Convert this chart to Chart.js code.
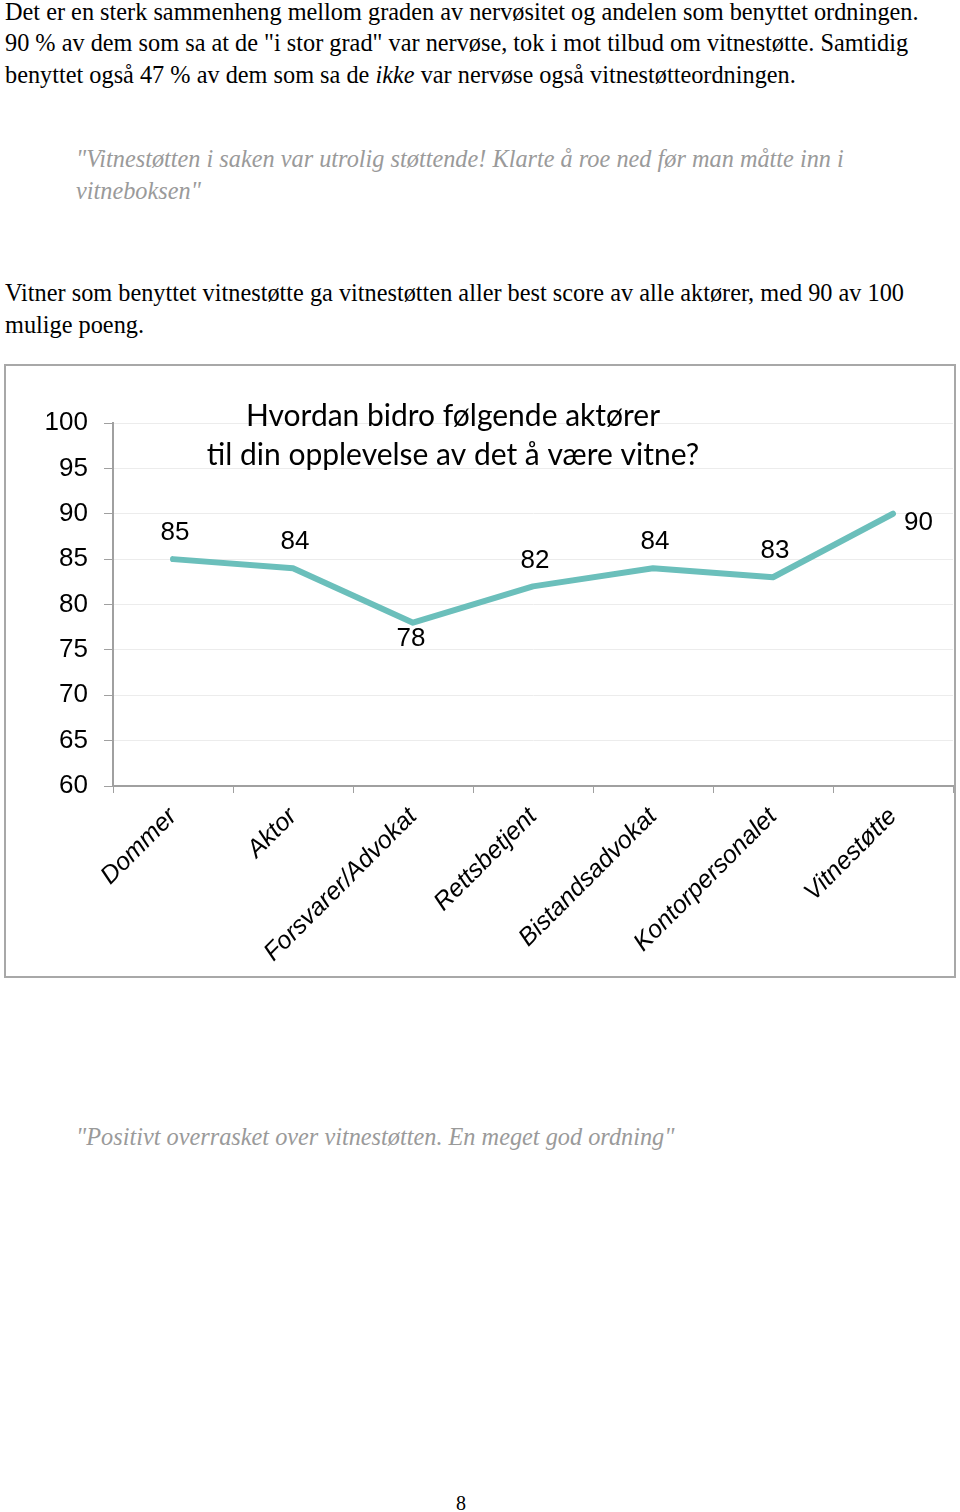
<!DOCTYPE html>
<html><head><meta charset="utf-8">
<script src="https://cdn.jsdelivr.net/npm/chart.js@4.4.1/dist/chart.umd.min.js"></script>
<style>
html,body{margin:0;padding:0;background:#fff;}
body{width:960px;height:1512px;position:relative;overflow:hidden;font-family:"Liberation Serif","Times New Roman",serif;}
.t{position:absolute;white-space:nowrap;font-size:24.3px;line-height:32px;color:#000;}
.q{color:#9a9a9a;font-style:italic;}
#box{position:absolute;left:4px;top:364px;width:952px;height:614px;box-sizing:border-box;border:2px solid #a8a8a8;}
#box canvas{display:block;}
</style></head><body>
<div class="t" style="left:5px;top:-4px">Det er en sterk sammenheng mellom graden av nervøsitet og andelen som benyttet ordningen.</div>
<div class="t" style="left:5px;top:27px">90 % av dem som sa at de "i stor grad" var nervøse, tok i mot tilbud om vitnestøtte. Samtidig</div>
<div class="t" style="left:5px;top:59px">benyttet også 47 % av dem som sa de <i>ikke</i> var nervøse også vitnestøtteordningen.</div>
<div class="t q" style="left:76px;top:143px">"Vitnestøtten i saken var utrolig støttende! Klarte å roe ned før man måtte inn i</div>
<div class="t q" style="left:76px;top:175px">vitneboksen"</div>
<div class="t" style="left:5px;top:277px">Vitner som benyttet vitnestøtte ga vitnestøtten aller best score av alle aktører, med 90 av 100</div>
<div class="t" style="left:5px;top:309px">mulige poeng.</div>
<div id="box"><canvas id="c" width="948" height="610"></canvas></div>
<div class="t q" style="left:76px;top:1121px">"Positivt overrasket over vitnestøtten. En meget god ordning"</div>
<div class="t" style="left:456px;top:1487px;font-size:20px">8</div>
<script>
const categories = ['Dommer','Aktor','Forsvarer/Advokat','Rettsbetjent','Bistandsadvokat','Kontorpersonalet','Vitnestøtte'];
const scores = [85, 84, 78, 82, 84, 83, 90];
const yMin = 60, yMax = 100, yStep = 5;
const titleLines = ['Hvordan bidro følgende aktører', 'til din opplevelse av det å være vitne?'];
const labelPlacement = ['top','top','bottom','top','top','top','right'];

const titlePlugin = {
  id: 'innerTitle',
  afterDatasetsDraw(chart) {
    const ctx = chart.ctx;
    ctx.save();
    ctx.font = '30px Lato, "Open Sans", sans-serif';
    ctx.fillStyle = '#000';
    ctx.textAlign = 'center';
    ctx.textBaseline = 'middle';
    ctx.fillText(titleLines[0], 447, 50);
    ctx.fillText(titleLines[1], 447, 89);
    ctx.restore();
  }
};
const valuePlugin = {
  id: 'values',
  afterDatasetsDraw(chart) {
    const ctx = chart.ctx;
    const meta = chart.getDatasetMeta(0);
    ctx.save();
    ctx.font = '26px "Liberation Sans", Arial, sans-serif';
    ctx.fillStyle = '#000';
    ctx.textBaseline = 'middle';
    meta.data.forEach((pt, i) => {
      const p = labelPlacement[i];
      let x = pt.x, y = pt.y;
      ctx.textAlign = 'center';
      if (p === 'top') { x += 2; y -= 26; }
      else if (p === 'bottom') { x -= 2; y += 16; }
      else { ctx.textAlign = 'left'; x += 11; y += 9; }
      ctx.fillText(String(scores[i]), x, y);
    });
    ctx.restore();
  }
};

new Chart(document.getElementById('c'), {
  type: 'line',
  data: {
    labels: categories,
    datasets: [{
      data: scores,
      borderColor: '#6bbfbb',
      borderWidth: 6,
      pointRadius: 0,
      tension: 0,
      borderJoinStyle: 'round',
      borderCapStyle: 'round'
    }]
  },
  options: {
    responsive: false,
    animation: false,
    layout: { padding: { top: 57, right: 1, left: 0, bottom: 0 } },
    plugins: { legend: { display: false }, title: { display: false }, tooltip: { enabled: false } },
    scales: {
      x: {
        offset: true,
        grid: { offset: true, drawOnChartArea: false, drawTicks: true, tickLength: 7, tickColor: '#a0a0a0' },
        border: { display: true, color: '#a0a0a0', width: 2 },
        ticks: { color: '#000', font: { family: '"Liberation Sans", Arial, sans-serif', size: 25, style: 'italic' }, minRotation: 45, maxRotation: 45, padding: 9, autoSkip: false },
        afterFit(s) { s.height = 190; }
      },
      y: {
        min: yMin, max: yMax,
        grid: { color: '#ececec', lineWidth: 1, tickLength: 9, tickColor: '#a0a0a0' },
        border: { display: true, color: '#a0a0a0', width: 2 },
        ticks: { stepSize: yStep, color: '#000', font: { family: '"Liberation Sans", Arial, sans-serif', size: 26 }, padding: 16 },
        afterFit(s) { s.width = 107; }
      }
    }
  },
  plugins: [titlePlugin, valuePlugin]
});
</script>
</body></html>
